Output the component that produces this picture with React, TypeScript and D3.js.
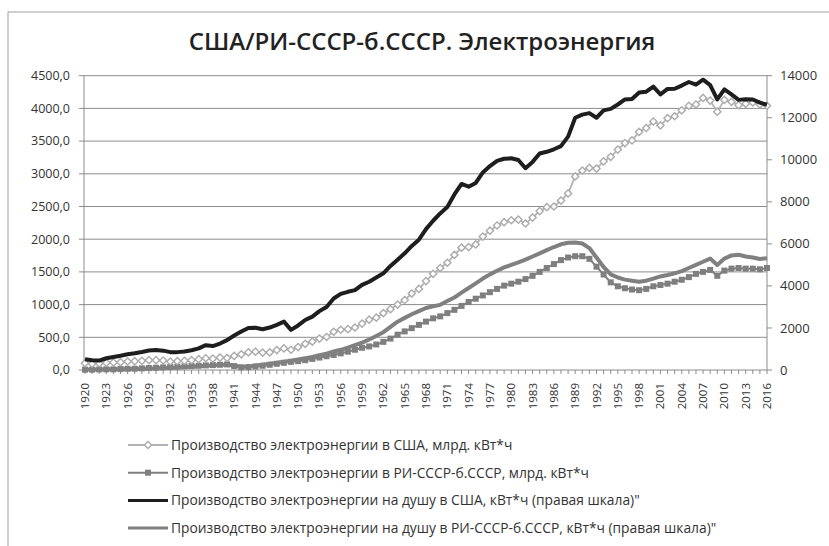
import React from "react";
import * as d3 from "d3";

const years = d3.range(1920, 2017);

// млрд кВт*ч, левая шкала
const usProduction = [
  105, 95, 100, 110, 115, 120, 130, 135, 140, 150,
  150, 145, 130, 135, 140, 150, 165, 180, 175, 190,
  185, 215, 240, 270, 280, 265, 270, 305, 330, 310,
  350, 400, 435, 480, 505, 585, 615, 625, 650, 710,
  770, 800, 870, 930, 1000, 1070, 1170, 1240, 1360, 1470,
  1560, 1640, 1760, 1870, 1880, 1920, 2040, 2130, 2210, 2260,
  2290, 2300, 2240, 2330, 2430, 2490, 2500, 2590, 2700, 2960,
  3050, 3090, 3080, 3190, 3260, 3370, 3470, 3510, 3640, 3700,
  3800, 3740, 3850, 3880, 3970, 4040, 4060, 4160, 4120, 3950,
  4130, 4100, 4050, 4070, 4090, 4060, 4040,
];

const ussrProduction = [
  5, 5, 8, 10, 10, 15, 18, 20, 25, 30,
  35, 40, 45, 50, 55, 60, 65, 70, 75, 80,
  85, 60, 40, 45, 55, 65, 80, 95, 110, 125,
  135, 150, 170, 190, 210, 230, 255, 280, 310, 340,
  360, 390, 430, 480, 540, 590, 640, 690, 740, 790,
  820, 870, 920, 980, 1040, 1090, 1140, 1190, 1240, 1290,
  1320, 1350, 1390, 1440, 1500, 1560, 1620, 1680, 1720, 1740,
  1740, 1700, 1580, 1460, 1340, 1280, 1250, 1230, 1220, 1240,
  1280, 1300, 1320, 1350, 1380, 1420, 1470, 1500, 1530, 1440,
  1520, 1550, 1560, 1550, 1550, 1540, 1560,
];

// кВт*ч на душу, правая шкала
const usPerCapita = [
  510, 460, 450, 560, 620, 680, 750, 800, 860, 930,
  950, 920, 850, 850, 880, 940, 1030, 1180, 1140, 1260,
  1420, 1640, 1830, 2000, 2010, 1940, 2020, 2150, 2300, 1910,
  2120, 2380, 2540, 2800, 3000, 3400, 3620, 3720, 3800, 4050,
  4200, 4400, 4600, 4950, 5250, 5550, 5900, 6200, 6700, 7100,
  7450, 7750, 8350, 8850, 8720, 8900, 9400, 9700, 9950, 10050,
  10070, 9990, 9600, 9900, 10300, 10380, 10500, 10650, 11100, 12000,
  12150, 12220, 12000, 12350, 12420, 12630, 12870, 12890, 13200, 13240,
  13480, 13110, 13370, 13380, 13530, 13700, 13570, 13810, 13550, 12870,
  13350, 13110, 12850, 12880, 12870, 12720, 12620,
];

const ussrPerCapita = [
  20, 20, 25, 30, 30, 40, 45, 50, 60, 70,
  80, 100, 110, 120, 140, 160, 180, 200, 220, 240,
  260, 200, 150, 170, 200, 250, 300, 340, 390, 440,
  500, 560, 620, 700, 780, 880, 960, 1060, 1180, 1300,
  1450, 1620, 1800, 2050, 2300, 2480, 2650, 2800, 2950, 3030,
  3100, 3280, 3450, 3680, 3900, 4120, 4350, 4550, 4720, 4880,
  5000, 5120, 5250, 5400, 5550, 5700, 5850, 5980, 6050, 6060,
  6020, 5800, 5350, 4900, 4550, 4400, 4300, 4250, 4200, 4250,
  4350, 4450, 4520, 4600, 4700, 4850, 5000, 5150, 5300, 5000,
  5300, 5450, 5480, 5400, 5350, 5280, 5320,
];

const leftTicks = [0, 500, 1000, 1500, 2000, 2500, 3000, 3500, 4000, 4500];
const rightTicks = [0, 2000, 4000, 6000, 8000, 10000, 12000, 14000];
const labelYears = years.filter((y) => (y - 1920) % 3 === 0);

const legendItems = [
  "Производство электроэнергии в США, млрд. кВт*ч",
  "Производство электроэнергии в РИ-СССР-б.СССР, млрд. кВт*ч",
  "Производство электроэнергии на душу в США, кВт*ч (правая шкала)\"",
  "Производство электроэнергии на душу в РИ-СССР-б.СССР, кВт*ч (правая шкала)\"",
];

const W = 829, H = 546;
const FONT = "'Open Sans', 'Noto Sans', sans-serif";
const gridColor = "#8c8c8c";

export default function App() {
  const x = d3.scalePoint<number>().domain(years).range([85, 767]);
  const yL = d3.scaleLinear().domain([0, 4500]).range([370, 75.7]);
  const yR = d3.scaleLinear().domain([0, 14000]).range([370, 75.7]);

  const lineL = (vals: number[]) =>
    d3.line<number>().x((_, i) => x(years[i])!).y((v) => yL(v))(vals) || "";
  const lineR = (vals: number[]) =>
    d3.line<number>().x((_, i) => x(years[i])!).y((v) => yR(v))(vals) || "";

  const diamond = (cx: number, cy: number, r: number) =>
    `M${cx},${cy - r}L${cx + r},${cy}L${cx},${cy + r}L${cx - r},${cy}Z`;

  const fmtL = (v: number) => d3.format(".1f")(v).replace(".", ",");
  const [x0, x1] = x.range();

  return (
    <svg width={W} height={H} style={{ position: "absolute", left: 0, top: 0, background: "#fff" }}
      fontFamily={FONT}>
      <rect x={8} y={12} width={W} height={H} fill="none" stroke="#a0a0a0" strokeWidth={1} />
      <text x={422} y={50} textAnchor="middle" fontSize={24} fontWeight={600} fill="#222">
        США/РИ-СССР-б.СССР. Электроэнергия
      </text>

      {/* сетка и оси */}
      {leftTicks.map((t) => (
        <g key={"l" + t}>
          <line x1={x0 - 6} x2={x1} y1={yL(t)} y2={yL(t)} stroke={gridColor} strokeWidth={1} />
          <text x={70} y={yL(t)} dy="0.35em" textAnchor="end" fontSize={12.5} fill="#333">
            {fmtL(t)}
          </text>
        </g>
      ))}
      <line x1={x0 - 1} x2={x0 - 1} y1={yL(4500)} y2={yL(0)} stroke={gridColor} />
      <line x1={x1} x2={x1} y1={yR(14000)} y2={yR(0)} stroke={gridColor} />
      {rightTicks.map((t) => (
        <g key={"r" + t}>
          <line x1={x1} x2={x1 + 5} y1={yR(t)} y2={yR(t)} stroke={gridColor} />
          <text x={780} y={yR(t)} dy="0.35em" fontSize={13} fill="#333">{t}</text>
        </g>
      ))}
      {years.map((yr) => (
        <line key={"t" + yr} x1={x(yr)} x2={x(yr)} y1={370} y2={374} stroke={gridColor} />
      ))}
      {labelYears.map((yr) => (
        <text key={"xl" + yr} transform={`translate(${x(yr)! + 4},383) rotate(-90)`}
          textAnchor="end" fontSize={11.5} fill="#333">{yr}</text>
      ))}

      {/* ряды левой шкалы */}
      <path d={lineL(ussrProduction)} fill="none" stroke="#7f7f7f" strokeWidth={2} />
      {ussrProduction.map((v, i) => (
        <rect key={"s" + i} x={x(years[i])! - 3} y={yL(v) - 3} width={6} height={6} fill="#7f7f7f" />
      ))}
      <path d={lineL(usProduction)} fill="none" stroke="#b4b4b4" strokeWidth={1.8} />
      {usProduction.map((v, i) => (
        <path key={"d" + i} d={diamond(x(years[i])!, yL(v), 3.6)} fill="#fff" stroke="#ababab" strokeWidth={1.4} />
      ))}

      {/* ряды правой шкалы */}
      <path d={lineR(ussrPerCapita)} fill="none" stroke="#808080" strokeWidth={4} strokeLinejoin="round" />
      <path d={lineR(usPerCapita)} fill="none" stroke="#1e1e1e" strokeWidth={4} strokeLinejoin="round" />

      {/* легенда */}
      {legendItems.map((label, i) => {
        const ly = 445 + i * 27.7;
        return (
          <g key={"lg" + i}>
            {i === 0 && (
              <>
                <line x1={128} x2={168} y1={ly} y2={ly} stroke="#b4b4b4" strokeWidth={1.8} />
                <path d={diamond(148, ly, 3.6)} fill="#fff" stroke="#ababab" strokeWidth={1.4} />
              </>
            )}
            {i === 1 && (
              <>
                <line x1={128} x2={168} y1={ly} y2={ly} stroke="#7f7f7f" strokeWidth={2} />
                <rect x={145} y={ly - 3} width={6} height={6} fill="#7f7f7f" />
              </>
            )}
            {i === 2 && <line x1={128} x2={168} y1={ly} y2={ly} stroke="#1e1e1e" strokeWidth={3} />}
            {i === 3 && <line x1={128} x2={168} y1={ly} y2={ly} stroke="#808080" strokeWidth={3} />}
            <text x={171} y={ly} dy="0.35em" fontSize={13.8} fill="#333">{label}</text>
          </g>
        );
      })}
    </svg>
  );
}
